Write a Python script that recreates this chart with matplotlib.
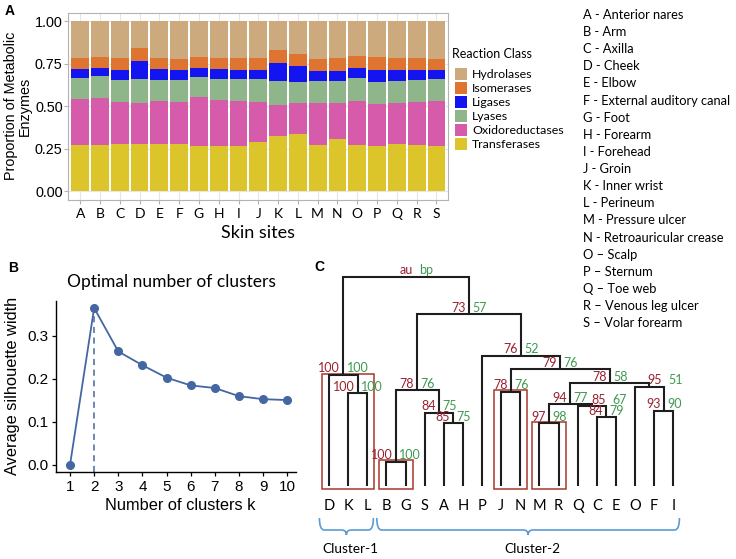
import matplotlib
matplotlib.use('Agg')
import matplotlib.pyplot as plt
from matplotlib.patches import Rectangle, PathPatch
from matplotlib.path import Path
import numpy as np

# ---------------- Panel A data ----------------
sites = list('ABCDEFGHIJKLMNOPQRS')
classes = ['Hydrolases', 'Isomerases', 'Ligases', 'Lyases', 'Oxidoreductases', 'Transferases']
class_colors = ['#CDAA7D', '#DE7430', '#1414F0', '#8FB58A', '#D65BAA', '#DCC52A']
transferases    = [.272, .272, .278, .278, .280, .278, .270, .270, .268, .291, .324, .340, .272, .311, .272, .268, .280, .272, .270]
oxidoreductases = [.270, .279, .246, .240, .250, .246, .283, .268, .266, .237, .185, .178, .246, .207, .262, .243, .237, .252, .260]
lyases          = [.124, .125, .132, .144, .126, .130, .121, .124, .124, .130, .141, .127, .132, .132, .130, .134, .133, .132, .128]
ligases         = [.054, .052, .059, .103, .062, .057, .052, .056, .055, .057, .107, .091, .059, .059, .064, .070, .063, .057, .057]
isomerases      = [.064, .062, .069, .078, .066, .068, .064, .066, .071, .069, .076, .074, .070, .073, .068, .077, .071, .069, .064]
hydrolases      = [.216, .210, .216, .157, .216, .221, .210, .216, .216, .216, .167, .190, .221, .218, .204, .208, .216, .218, .221]

site_names = ['A - Anterior nares', 'B - Arm', 'C - Axilla', 'D - Cheek', 'E - Elbow',
              'F - External auditory canal', 'G - Foot', 'H - Forearm', 'I - Forehead',
              'J - Groin', 'K - Inner wrist', 'L - Perineum', 'M - Pressure ulcer',
              'N - Retroauricular crease', 'O \u2013 Scalp', 'P \u2013 Sternum',
              'Q \u2013 Toe web', 'R \u2013 Venous leg ulcer', 'S \u2013 Volar forearm']

# ---------------- Panel B data ----------------
k_values = list(range(1, 11))
silhouette = [0.0, 0.365, 0.264, 0.232, 0.203, 0.185, 0.179, 0.160, 0.153, 0.151]
optimal_k = 2

# ---------------- Panel C data ----------------
leaves = ['D', 'K', 'L', 'B', 'G', 'S', 'A', 'H', 'P', 'J', 'N', 'M', 'R', 'Q', 'C', 'E', 'O', 'F', 'I']
merge_left  = ['K', 'D', 'B', 'A', 'S', 2, 'J', 'M', 'C', 'Q', 7, 'F', 'O', 10, 6, 'P', 5, 1]
merge_right = ['L', 0, 'G', 'H', 3, 4, 'N', 'R', 'E', 8, 9, 'I', 11, 12, 13, 14, 15, 16]
merge_heights = [0.924, 1.107, 0.24, 0.624, 0.73, 0.957, 0.94, 0.624, 0.684, 0.797, 0.817,
                 0.747, 0.99, 1.024, 1.164, 1.30, 1.714, 2.09]
au_values = [100, 100, 100, 85, 84, 78, 78, 97, 84, 85, 94, 93, 95, 78, 79, 76, 73, 'au']
bp_values = [100, 100, 100, 75, 75, 76, 76, 98, 79, 67, 77, 90, 51, 58, 76, 52, 57, 'bp']
boxed_merges = [1, 2, 6, 7]
clusters = [('Cluster-1', 'D', 'L'), ('Cluster-2', 'B', 'I')]

# label nudges (style): merge index -> horizontal shift in leaf units
label_shift = {9: 0.9, 12: 0.8, 17: 0.5}

CAL = 'Lato'
ARI = 'Liberation Sans'

W, H = 736, 559
fig = plt.figure(figsize=(W / 100, H / 100), dpi=100)

def fx(px):
    return px / W

def fy(py):
    return 1 - py / H

# ================= Panel A =================
axA = fig.add_axes([fx(68.3), fy(200), (448.3 - 68.3) / W, (200 - 12.7) / H])
x = np.arange(len(sites))
stack_order = [transferases, oxidoreductases, lyases, ligases, isomerases, hydrolases]
stack_colors = class_colors[::-1]
bottom = np.zeros(len(sites))
for vals, col in zip(stack_order, stack_colors):
    axA.bar(x, vals, bottom=bottom, width=0.9, color=col, zorder=2, linewidth=0)
    bottom += np.array(vals)
axA.set_xlim(-0.6, 18.6)
axA.set_ylim(-0.05, 1.05)
axA.set_xticks(x)
axA.set_xticklabels(sites, fontfamily=CAL, fontsize=10)
axA.set_yticks([0, 0.25, 0.5, 0.75, 1.0])
axA.set_yticklabels(['0.00', '0.25', '0.50', '0.75', '1.00'], fontfamily=ARI, fontsize=10.4)
axA.set_axisbelow(True)
axA.grid(True, color='#E6E6E6', lw=0.8)
for s in axA.spines.values():
    s.set_color('#B3B3B3')
    s.set_linewidth(0.8)
axA.tick_params(axis='both', colors='#B3B3B3', labelcolor='black', length=2.6, width=0.8)
axA.tick_params(axis='y', pad=1.4)
axA.tick_params(axis='x', pad=3.0)
fig.text(fx(258.3), fy(233), 'Skin sites', ha='center', va='center', fontfamily=CAL, fontsize=13)
fig.text(fx(18), fy(106), 'Proportion of Metabolic\nEnzymes', rotation=90, ha='center',
         va='center', multialignment='center', fontfamily=ARI, fontsize=10.4, linespacing=1.05)

# legend (drawn as figure-level keys)
fig.text(fx(451.7), fy(54), 'Reaction Class', ha='left', va='center', fontfamily=CAL, fontsize=9)
for i, (name, col) in enumerate(zip(classes, class_colors)):
    yc = 74 + 14.07 * i
    fig.add_artist(Rectangle((fx(455), fy(yc + 6)), 11.7 / W, 12 / H, transform=fig.transFigure,
                             facecolor=col, edgecolor='none'))
    fig.text(fx(472.3), fy(yc), name, ha='left', va='center', fontfamily=CAL, fontsize=8.9)

for i, s in enumerate(site_names):
    fig.text(fx(582.7), fy(15 + 17.12 * i), s, ha='left', va='center', fontfamily=CAL, fontsize=9.3)

fig.text(fx(9.5), fy(11), 'A', ha='center', va='center', fontfamily=ARI, fontweight='bold', fontsize=10)
fig.text(fx(13), fy(268), 'B', ha='center', va='center', fontfamily=ARI, fontweight='bold', fontsize=10)
fig.text(fx(319), fy(267), 'C', ha='center', va='center', fontfamily=ARI, fontweight='bold', fontsize=10)

# ================= Panel B =================
blue = '#4467A4'
axB = fig.add_axes([fx(56), fy(472.3), (296 - 56) / W, (472.3 - 300.7) / H])
axB.plot(k_values, silhouette, color=blue, marker='o', ms=5.5, lw=1.3, zorder=3)
axB.axvline(optimal_k, color=blue, ls=(0, (4, 3)), lw=1.1, zorder=2)
axB.set_xlim(0.42, 10.36)
axB.set_ylim(-0.017, 0.382)
axB.set_xticks(k_values)
axB.set_xticklabels([str(k) for k in k_values], fontfamily=ARI, fontsize=11)
axB.set_yticks([0, 0.1, 0.2, 0.3])
axB.set_yticklabels(['0.0', '0.1', '0.2', '0.3'], fontfamily=ARI, fontsize=11)
for side in ['top', 'right']:
    axB.spines[side].set_visible(False)
for side in ['left', 'bottom']:
    axB.spines[side].set_color('black')
    axB.spines[side].set_linewidth(1.0)
axB.tick_params(axis='both', length=3, width=0.9, colors='black', pad=2.5)
fig.text(fx(171.3), fy(281.7), 'Optimal number of clusters', ha='center', va='center',
         fontfamily=CAL, fontsize=12.5)
fig.text(fx(180), fy(506), 'Number of clusters k', ha='center', va='center', fontfamily=ARI, fontsize=11.8)
fig.text(fx(13), fy(386), 'Average silhouette width', rotation=90, ha='center', va='center',
         fontfamily=ARI, fontsize=11.8)

# ================= Panel C =================
axC = fig.add_axes([fx(310), 0, (700 - 310) / W, fy(260)])
axC.set_xlim(-0.993, 19.395)
axC.set_ylim(-0.733, 2.257)
axC.axis('off')

red_txt = '#9A2030'
green_txt = '#3E9A52'
box_col = '#A8372C'
line_col = '#1E1E1E'

pos = {}
hgt = {}
members = {}
for i, lf in enumerate(leaves):
    pos[lf] = float(i)
    hgt[lf] = 0.0
    members[lf] = [i]

for m, (a, b, h) in enumerate(zip(merge_left, merge_right, merge_heights)):
    xa, xb = pos[a], pos[b]
    ha_, hb_ = hgt[a], hgt[b]
    axC.plot([xa, xa, xb, xb], [ha_, h, h, hb_], color=line_col, lw=1.5, solid_joinstyle='miter',
             solid_capstyle='butt', zorder=3)
    xc = (xa + xb) / 2
    pos[m] = xc
    hgt[m] = h
    members[m] = members[a] + members[b]
    xl = xc + label_shift.get(m, 0.0)
    axC.text(xl - 0.17, h + 0.005, str(au_values[m]), ha='right', va='bottom', color=red_txt,
             fontfamily=CAL, fontsize=9, zorder=4)
    axC.text(xl + 0.17, h + 0.005, str(bp_values[m]), ha='left', va='bottom', color=green_txt,
             fontfamily=CAL, fontsize=9, zorder=4)

for m in boxed_merges:
    lo, hi = min(members[m]), max(members[m])
    axC.add_patch(Rectangle((lo - 0.37, -0.033), hi - lo + 0.74, merge_heights[m] + 0.048,
                            fill=False, edgecolor=box_col, lw=1.1, zorder=2))

for i, lf in enumerate(leaves):
    axC.text(i, -0.203, lf, ha='center', va='center', fontfamily=CAL, fontsize=10.5)

def brace(ax, x0, x1, y_top, y_mid, y_tip, color):
    xc = (x0 + x1) / 2
    r = 0.25
    verts = [(x0, y_top), (x0, y_mid), (x0 + r, y_mid),
             (xc - r, y_mid), (xc, y_mid), (xc, y_tip),
             (xc, y_mid), (xc + r, y_mid),
             (x1 - r, y_mid), (x1, y_mid), (x1, y_top)]
    codes = [Path.MOVETO, Path.CURVE3, Path.CURVE3,
             Path.LINETO, Path.CURVE3, Path.CURVE3,
             Path.CURVE3, Path.CURVE3,
             Path.LINETO, Path.CURVE3, Path.CURVE3]
    ax.add_patch(PathPatch(Path(verts, codes), fill=False, edgecolor=color, lw=1.2))
    return xc

for name, first, last in clusters:
    i0, i1 = leaves.index(first), leaves.index(last)
    xc = brace(axC, i0 - 0.5, i1 + 0.32, -0.323, -0.443, -0.493, '#5B9BD5')
    axC.text(xc + 0.2, -0.633, name, ha='center', va='center', fontfamily=CAL, fontsize=9.8)

fig.savefig('out.png', dpi=100)
